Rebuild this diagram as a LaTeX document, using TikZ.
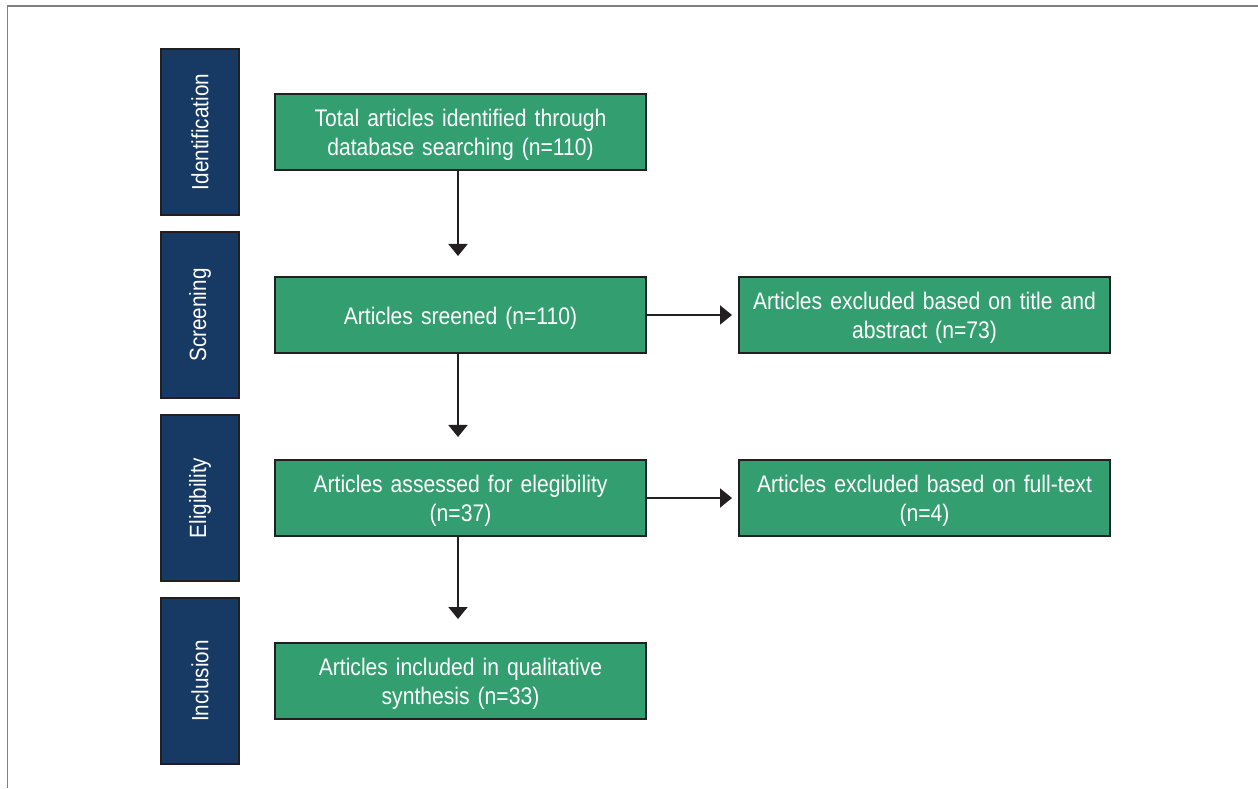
\documentclass[tikz,border=0pt]{standalone}
\usepackage{fontspec}
\setmainfont{Liberation Sans}[FakeStretch=0.88]
\usetikzlibrary{arrows.meta}
\definecolor{stageblue}{HTML}{173A64}
\definecolor{boxgreen}{HTML}{339E6F}
\definecolor{edge}{HTML}{231F20}
\definecolor{framegray}{HTML}{7F7F7F}
\begin{document}
\begin{tikzpicture}[x=1pt,y=1pt,
  stagebox/.style={draw=edge, line width=2pt, fill=stageblue, minimum width=78pt, minimum height=166pt, inner sep=0pt},
  stagetext/.style={text=white, font=\fontsize{23.5}{28}\selectfont, rotate=90},
  greenbox/.style={draw=edge, line width=2pt, fill=boxgreen, minimum width=371pt, minimum height=76pt, inner sep=0pt},
  boxtext/.style={text=white, align=center, font=\fontsize{24}{29}\selectfont, text width=365pt, inner sep=0pt, yshift=-3pt},
  arr/.style={line width=2pt, draw=edge, -{Triangle[length=12pt,width=19pt]}}
]
\useasboundingbox (0,0) rectangle (1258,788);
\fill[white] (0,0) rectangle (1258,788);
% frame
\coordinate (fbl) at (7.5,0);
\coordinate (ftl) at (7.5,782);
\coordinate (ftr) at (1258,782);
\draw[framegray, line width=1.5pt] (fbl) -- (ftl) -- (ftr);
% stages
\node[stagebox] (s1) at (200,656) {};
\node[stagetext] (t1) at (s1) {Identification};
\node[stagebox] (s2) at (200,473) {};
\node[stagetext] (t2) at (s2) {Screening};
\node[stagebox] (s3) at (200,290) {};
\node[stagetext] (t3) at (s3) {Eligibility};
\node[stagebox] (s4) at (200,107) {};
\node[stagetext] (t4) at (s4) {Inclusion};
% main column
\node[greenbox] (b1) at (460.5,656) {};
\node[boxtext] (l1) at (b1) {Total articles identified through\\database searching (n=110)};
\node[greenbox] (b2) at (460.5,473) {};
\node[boxtext] (l2) at (b2) {Articles sreened (n=110)};
\node[greenbox] (b3) at (460.5,290) {};
\node[boxtext] (l3) at (b3) {Articles assessed for elegibility\\(n=37)};
\node[greenbox] (b4) at (460.5,107) {};
\node[boxtext] (l4) at (b4) {Articles included in qualitative\\synthesis (n=33)};
% right column
\node[greenbox] (r2) at (924.5,473) {};
\node[boxtext] (m2) at (r2) {Articles excluded based on title and\\abstract (n=73)};
\node[greenbox] (r3) at (924.5,290) {};
\node[boxtext] (m3) at (r3) {Articles excluded based on full-text\\(n=4)};
% arrows
\draw[arr, shorten >=20pt] ([xshift=-2.5pt]b1.south) -- ([xshift=-2.5pt]b2.north);
\draw[arr, shorten >=22pt] ([xshift=-2.5pt]b2.south) -- ([xshift=-2.5pt]b3.north);
\draw[arr, shorten >=23pt] ([xshift=-2.5pt]b3.south) -- ([xshift=-2.5pt]b4.north);
\draw[arr, shorten >=6pt] (b2.east) -- (r2.west);
\draw[arr, shorten >=6pt] (b3.east) -- (r3.west);
\end{tikzpicture}
\end{document}
